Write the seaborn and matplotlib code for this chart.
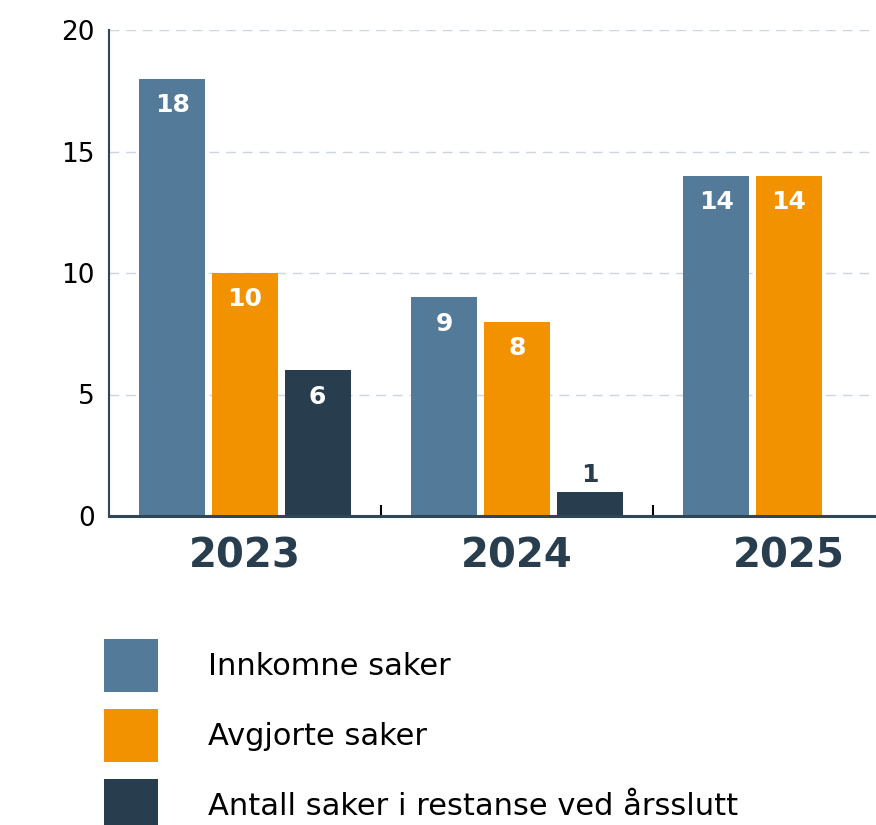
import pandas as pd
import matplotlib
matplotlib.use('Agg')
import matplotlib.pyplot as plt
import seaborn as sns
from matplotlib.ticker import FixedLocator

YEARS = ['2023', '2024', '2025']
SERIES = ['Innkomne saker', 'Avgjorte saker', 'Antall saker i restanse ved årsslutt']
INNKOMNE = [18, 9, 14]
AVGJORTE = [10, 8, 14]
RESTANSE = [6, 1, None]  # no value for 2025
COLORS = ['#537a98', '#f39200', '#283e4e']
DARK = '#283e4e'


def main():
    rows = []
    for name, vals in zip(SERIES, [INNKOMNE, AVGJORTE, RESTANSE]):
        for yr, v in zip(YEARS, vals):
            if v is not None:
                rows.append({'year': yr, 'series': name, 'value': v})
    df = pd.DataFrame(rows)

    sns.set_style('white')
    plt.rcParams['font.family'] = ['DejaVu Sans']

    W, H = 876, 825
    fig = plt.figure(figsize=(W / 100, H / 100), dpi=100)
    ax = fig.add_axes([109 / W, 1 - 516 / H, 1 - 109 / W, (516 - 30) / H])

    sns.barplot(data=df, x='year', y='value', hue='series', order=YEARS,
                hue_order=SERIES, palette=COLORS, width=0.8, gap=0.09,
                saturation=1, errorbar=None, linewidth=0, ax=ax)

    # value labels
    for cont in ax.containers:
        for bar in cont:
            h = bar.get_height()
            if h != h:
                continue
            xc = bar.get_x() + bar.get_width() / 2
            if h < 3:
                ax.annotate(f'{h:.0f}', (xc, h), xytext=(0, 12), textcoords='offset points',
                            ha='center', va='center', fontsize=18, fontweight='bold', color=DARK)
            else:
                ax.annotate(f'{h:.0f}', (xc, h), xytext=(0, -19), textcoords='offset points',
                            ha='center', va='center', fontsize=18, fontweight='bold', color='white')

    ax.set_xlim(-0.5, 2.32)
    ax.set_ylim(0, 20)
    ax.set_yticks([0, 5, 10, 15, 20])
    ax.set_xlabel('')
    ax.set_ylabel('')
    ax.set_axisbelow(True)
    ax.yaxis.grid(True, linestyle=(0, (7, 5)), color='#cbd6e0', linewidth=1)

    ax.tick_params(axis='y', length=0, pad=10, labelsize=19, labelcolor='black')
    ax.tick_params(axis='x', which='major', length=0, pad=15, labelsize=29, labelcolor=DARK)
    plt.setp(ax.get_xticklabels(), fontweight='bold')
    ax.xaxis.set_minor_locator(FixedLocator([0.5, 1.5]))
    ax.tick_params(axis='x', which='minor', bottom=True, direction='in', length=8,
                   width=1.5, color='black')

    for s in ['top', 'right']:
        ax.spines[s].set_visible(False)
    ax.spines['left'].set_color('#2e4656')
    ax.spines['left'].set_linewidth(1.5)
    ax.spines['bottom'].set_color('#2e4656')
    ax.spines['bottom'].set_linewidth(2.2)

    leg = ax.get_legend()
    handles = leg.legend_handles
    labels = [t.get_text() for t in leg.get_texts()]
    leg.remove()
    fig.legend(handles, labels, loc='upper left', bbox_to_anchor=(104 / W, 1 - 639 / H),
               frameon=False, fontsize=22, labelcolor='black', handlelength=1.76,
               handleheight=2.29, handletextpad=1.63, labelspacing=0.56,
               borderpad=0, borderaxespad=0)

    fig.savefig('out.png', dpi=100)


if __name__ == '__main__':
    main()
